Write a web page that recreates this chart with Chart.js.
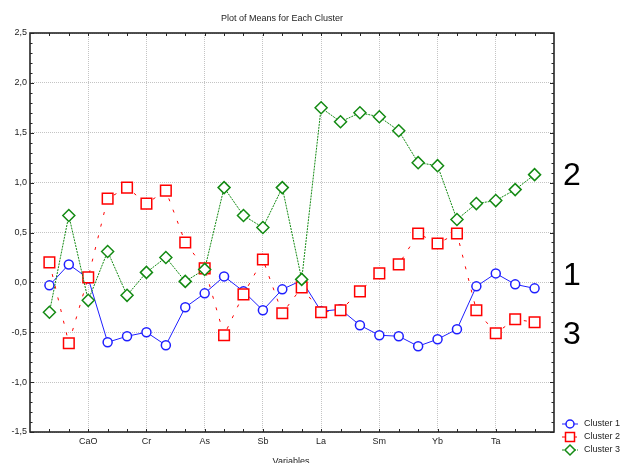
<!DOCTYPE html>
<html>
<head>
<meta charset="utf-8">
<script src="https://cdn.jsdelivr.net/npm/chart.js@4.4.0/dist/chart.umd.min.js"></script>
<style>
  html, body { margin: 0; padding: 0; background: #fff; }
  canvas { display: block; }
</style>
</head>
<body>
<canvas id="chart" width="623" height="463"></canvas>
<script>
// variables on the x axis (only every third one is labelled)
const categories = ['Na2O', 'K2O', 'CaO', 'Fe2O3', 'Sc', 'Cr', 'Co', 'Zn', 'As', 'Se', 'Br', 'Sb', 'Rb',
    'Cs', 'La', 'Ce', 'Nd', 'Sm', 'Eu', 'Tb', 'Yb', 'Lu', 'Hf', 'Ta', 'Th', 'U'];
const tickLabels = ['CaO', 'Cr', 'As', 'Sb', 'La', 'Sm', 'Yb', 'Ta'];
const yTicks = [-1.5, -1.0, -0.5, 0.0, 0.5, 1.0, 1.5, 2.0, 2.5];

const cluster1 = [-0.03, 0.18, 0.04, -0.60, -0.54, -0.50, -0.63, -0.25, -0.11, 0.06, -0.09, -0.28, -0.07,
    0.02, -0.29, -0.27, -0.43, -0.53, -0.54, -0.64, -0.57, -0.47, -0.04, 0.09, -0.02, -0.06];
const cluster2 = [0.20, -0.61, 0.05, 0.84, 0.95, 0.79, 0.92, 0.40, 0.14, -0.53, -0.12, 0.23, -0.31,
    -0.05, -0.30, -0.28, -0.09, 0.09, 0.18, 0.49, 0.39, 0.49, -0.28, -0.51, -0.37, -0.40];
const cluster3 = [-0.30, 0.67, -0.18, 0.31, -0.13, 0.10, 0.25, 0.01, 0.13, 0.95, 0.67, 0.55, 0.95,
    0.03, 1.75, 1.61, 1.70, 1.66, 1.52, 1.20, 1.17, 0.63, 0.79, 0.82, 0.93, 1.08];

// cluster numbers written at the right margin
const sideLabels = [{ text: '2', y: 1.06 }, { text: '1', y: 0.06 }, { text: '3', y: -0.53 }];

const toPoints = arr => arr.map((v, i) => ({ x: i, y: v }));
const tickPositions = tickLabels.map(l => categories.indexOf(l));
const fmt = v => v.toFixed(1).replace('.', ',');
const FONT = 'Liberation Sans, Arial, sans-serif';

const BLUE = '#1f1fff';
const RED = '#ff0000';
const GREEN = '#138a13';

const extras = {
    id: 'extras',
    afterDraw(chart) {
        const { ctx, chartArea: a, scales } = chart;
        const x = scales.x, y = scales.y;
        ctx.save();

        // frame
        ctx.strokeStyle = '#262626';
        ctx.lineWidth = 1.6;
        ctx.strokeRect(a.left, a.top, a.right - a.left, a.bottom - a.top);

        // inward ticks on top and bottom
        ctx.lineWidth = 1;
        ctx.beginPath();
        categories.forEach((c, i) => {
            const px = Math.round(x.getPixelForValue(i)) + 0.5;
            ctx.moveTo(px, a.top); ctx.lineTo(px, a.top + 3);
            ctx.moveTo(px, a.bottom); ctx.lineTo(px, a.bottom - 3);
        });
        // inward ticks left and right, minor every 0.1
        for (let k = -15; k <= 25; k++) {
            const py = Math.round(y.getPixelForValue(k / 10)) + 0.5;
            const len = k % 5 === 0 ? 4 : 2.5;
            ctx.moveTo(a.left, py); ctx.lineTo(a.left + len, py);
            ctx.moveTo(a.right, py); ctx.lineTo(a.right - len, py);
        }
        ctx.stroke();

        // title
        ctx.fillStyle = '#222';
        ctx.font = '9px ' + FONT;
        ctx.textAlign = 'center';
        ctx.textBaseline = 'middle';
        ctx.fillText('Plot of Means for Each Cluster', 282, 19);
        ctx.fillText('Variables', 291, 462);

        // big cluster numbers
        ctx.fillStyle = '#000';
        ctx.font = '32px ' + FONT;
        sideLabels.forEach(s => {
            ctx.fillText(s.text, 572, y.getPixelForValue(s.y));
        });

        // legend
        const items = [
            { label: 'Cluster 1', color: BLUE, style: 'circle', dash: [] },
            { label: 'Cluster 2', color: RED, style: 'rect', dash: [3, 3] },
            { label: 'Cluster 3', color: GREEN, style: 'rectRot', dash: [2, 1] }
        ];
        items.forEach((it, i) => {
            const cx = 570, cy = 424 + i * 13;
            ctx.strokeStyle = it.color;
            ctx.lineWidth = 1;
            ctx.setLineDash(it.dash);
            ctx.beginPath();
            ctx.moveTo(562, cy); ctx.lineTo(578, cy);
            ctx.stroke();
            ctx.setLineDash([]);
            ctx.fillStyle = '#fff';
            ctx.lineWidth = 1.5;
            ctx.beginPath();
            if (it.style === 'circle') {
                ctx.arc(cx, cy, 4, 0, Math.PI * 2);
            } else if (it.style === 'rect') {
                ctx.rect(cx - 4.5, cy - 4.5, 9, 9);
            } else {
                ctx.moveTo(cx, cy - 5); ctx.lineTo(cx + 5, cy);
                ctx.lineTo(cx, cy + 5); ctx.lineTo(cx - 5, cy);
                ctx.closePath();
            }
            ctx.fill();
            ctx.stroke();
            ctx.fillStyle = '#222';
            ctx.font = '9px ' + FONT;
            ctx.textAlign = 'left';
            ctx.fillText(it.label, 584, cy);
        });

        ctx.restore();
    }
};

new Chart(document.getElementById('chart'), {
    type: 'line',
    data: {
        datasets: [
            {
                label: 'Cluster 1',
                data: toPoints(cluster1),
                borderColor: BLUE,
                borderWidth: 1,
                pointStyle: 'circle',
                pointRadius: 4.5,
                pointBorderWidth: 1.5,
                pointBackgroundColor: '#fff',
                pointBorderColor: BLUE,
                order: 2
            },
            {
                label: 'Cluster 2',
                data: toPoints(cluster2),
                borderColor: RED,
                borderWidth: 1,
                borderDash: [3, 9],
                pointStyle: 'rect',
                pointRadius: 7.5,
                pointBorderWidth: 1.5,
                pointBackgroundColor: '#fff',
                pointBorderColor: RED,
                order: 1
            },
            {
                label: 'Cluster 3',
                data: toPoints(cluster3),
                borderColor: GREEN,
                borderWidth: 1,
                borderDash: [2, 1],
                pointStyle: 'rectRot',
                pointRadius: 6,
                pointBorderWidth: 1.5,
                pointBackgroundColor: '#fff',
                pointBorderColor: GREEN,
                order: 0
            }
        ]
    },
    options: {
        responsive: false,
        animation: false,
        layout: { padding: { top: 33, right: 69, left: 0, bottom: 0 } },
        plugins: {
            legend: { display: false },
            title: { display: false },
            tooltip: { enabled: false }
        },
        elements: { line: { tension: 0 } },
        scales: {
            x: {
                type: 'linear',
                min: -1,
                max: categories.length,
                afterBuildTicks: s => { s.ticks = tickPositions.map(v => ({ value: v })); },
                afterFit: s => { s.height = 31; },
                ticks: {
                    autoSkip: false,
                    maxRotation: 0,
                    padding: 4,
                    color: '#222',
                    font: { family: FONT, size: 9 },
                    callback: v => categories[v]
                },
                grid: { color: '#c4c4c4', drawTicks: false, lineWidth: 1 },
                border: { display: false, dash: [1, 1] }
            },
            y: {
                min: -1.5,
                max: 2.5,
                afterBuildTicks: s => { s.ticks = yTicks.map(v => ({ value: v })); },
                afterFit: s => { s.width = 30; },
                ticks: {
                    padding: 3,
                    color: '#222',
                    font: { family: FONT, size: 9 },
                    callback: v => fmt(v)
                },
                grid: { color: '#c4c4c4', drawTicks: false, lineWidth: 1 },
                border: { display: false, dash: [1, 1] }
            }
        }
    },
    plugins: [extras]
});
</script>
</body>
</html>
